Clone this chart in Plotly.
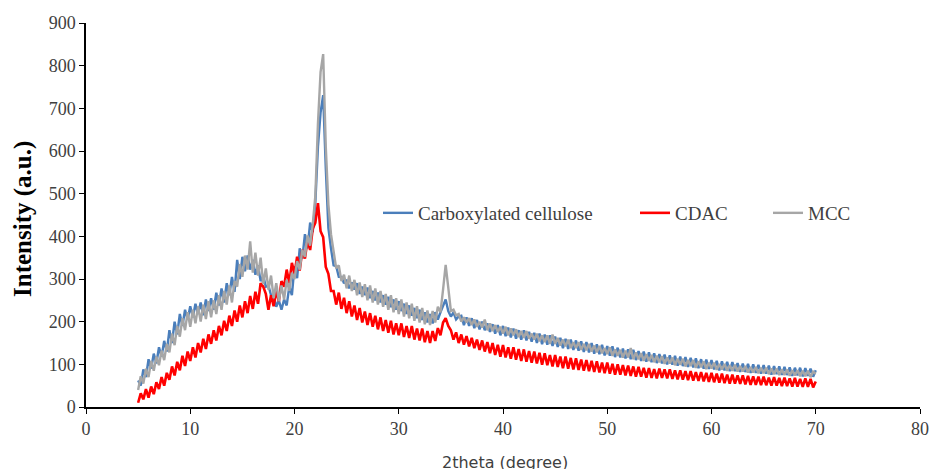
import numpy as np
import plotly.graph_objects as go

# 2theta grid (degree), 0.25 deg step from 5 to 70
two_theta = np.round(np.arange(5.0, 70.0001, 0.25), 2)

# Intensities (a.u.), four values per degree
carboxylated = [
    62, 50, 88, 70,   112, 90, 125, 102,   140, 118, 155, 130,   180, 150, 200, 170,
    218, 190, 228, 205,   236, 210, 242, 218,   245, 215, 252, 225,   255, 228, 268, 238,
    278, 245, 290, 262,   305, 270, 345, 300,   352, 318, 355, 322,   345, 310, 332, 295,
    308, 282, 285, 262,   262, 235, 250, 228,   252, 238, 282, 262,   330, 302, 372, 348,
    405, 372, 432, 410,   480, 610, 690, 731,   560, 420, 372, 332,   330, 305, 305, 290,
    298, 278, 292, 275,   290, 265, 282, 262,   280, 255, 272, 250,   268, 245, 262, 240,
    258, 234, 252, 228,   248, 225, 242, 218,   238, 214, 232, 208,   228, 204, 222, 198,
    218, 196, 222, 205,   222, 238, 252, 225,   212, 222, 205, 212,   214, 192, 210, 190,
    208, 185, 204, 182,   200, 180, 196, 176,   194, 172, 192, 168,   190, 166, 186, 163,
    184, 160, 180, 158,   180, 156, 176, 153,   174, 150, 172, 147,   170, 146, 168, 143,
    165, 141, 162, 138,   160, 136, 158, 134,   156, 132, 154, 129,   152, 128, 150, 125,
    147, 124, 146, 121,   143, 120, 142, 117,   139, 116, 137, 114,   135, 112, 134, 110,
    131, 108, 130, 106,   128, 105, 126, 103,   124, 102, 123, 100,   121, 99, 120, 97,
    118, 96, 117, 94,   115, 93, 114, 91,   112, 90, 111, 89,   110, 88, 108, 86,
    107, 86, 106, 84,   105, 84, 103, 82,   102, 82, 101, 80,   100, 80, 99, 78,
    98, 78, 97, 76,   96, 77, 95, 75,   94, 75, 93, 73,   92, 74, 92, 72,
    91, 73, 90, 71,   86,
]

cdac = [
    10, 32, 18, 42,   22, 48, 30, 58,   42, 70, 50, 80,   64, 95, 74, 106,
    86, 120, 96, 130,   108, 140, 116, 150,   128, 160, 136, 170,   148, 180, 156, 190,
    168, 202, 178, 214,   190, 226, 200, 238,   210, 248, 220, 260,   230, 270, 242, 290,
    282, 265, 228, 262,   236, 272, 248, 295,   282, 322, 290, 338,   312, 352, 320, 368,
    348, 392, 368, 418,   432, 478, 412, 398,   328, 312, 272, 272,   240, 268, 230, 256,
    220, 248, 212, 238,   204, 232, 198, 224,   192, 220, 188, 214,   182, 210, 178, 204,
    174, 202, 170, 196,   168, 196, 164, 190,   162, 190, 158, 184,   156, 184, 152, 178,
    150, 178, 155, 185,   168, 198, 208, 190,   180, 158, 175, 150,   170, 146, 166, 142,
    162, 138, 158, 134,   156, 130, 152, 126,   150, 122, 146, 118,   145, 116, 140, 113,
    140, 111, 136, 108,   135, 106, 131, 104,   130, 102, 127, 99,   126, 98, 122, 95,
    122, 94, 118, 91,   118, 90, 115, 88,   114, 87, 111, 85,   110, 84, 108, 82,
    107, 81, 104, 79,   104, 78, 101, 76,   100, 76, 98, 74,   97, 73, 95, 71,
    94, 71, 92, 69,   91, 68, 89, 67,   90, 68, 88, 67,   88, 66, 86, 65,
    86, 64, 84, 63,   84, 62, 82, 61,   82, 60, 80, 59,   80, 58, 78, 57,
    78, 56, 76, 55,   76, 55, 74, 54,   74, 53, 73, 52,   72, 52, 71, 51,
    71, 51, 69, 50,   70, 50, 68, 49,   69, 49, 67, 48,   68, 48, 66, 47,
    67, 47, 66, 46,   60,
]

mcc = [
    40, 72, 55, 90,   70, 108, 85, 118,   98, 132, 110, 148,   128, 172, 145, 190,
    165, 208, 180, 222,   188, 228, 196, 236,   200, 240, 206, 248,   210, 250, 218, 262,
    228, 272, 240, 285,   245, 295, 282, 335,   305, 355, 322, 388,   315, 362, 308, 350,
    288, 325, 275, 308,   255, 290, 248, 285,   252, 298, 272, 315,   300, 342, 322, 368,
    352, 402, 378, 428,   495, 665, 785, 827,   610, 475, 405, 368,   325, 332, 295, 310,
    278, 308, 272, 298,   262, 292, 258, 288,   250, 285, 245, 278,   240, 272, 235, 265,
    228, 262, 222, 255,   218, 252, 212, 245,   208, 242, 202, 236,   198, 232, 194, 226,
    192, 225, 198, 235,   222, 275, 333, 280,   225, 228, 215, 218,   200, 210, 198, 208,
    192, 205, 188, 200,   186, 205, 180, 196,   178, 192, 176, 188,   172, 188, 168, 184,
    168, 182, 164, 178,   162, 178, 160, 172,   158, 172, 154, 168,   152, 168, 148, 170,
    148, 162, 144, 158,   142, 158, 138, 152,   138, 152, 134, 148,   133, 148, 130, 144,
    128, 143, 126, 138,   124, 140, 120, 135,   120, 134, 116, 132,   116, 138, 112, 128,
    112, 126, 108, 124,   108, 122, 105, 120,   105, 119, 101, 116,   102, 116, 98, 113,
    99, 113, 95, 110,   96, 110, 92, 107,   93, 107, 89, 104,   90, 104, 87, 101,
    88, 101, 85, 98,   85, 99, 83, 96,   83, 96, 81, 94,   81, 94, 79, 92,
    79, 92, 77, 90,   77, 90, 75, 88,   75, 88, 73, 86,   74, 86, 72, 85,
    72, 85, 70, 83,   78,
]

x_ticks = [0, 10, 20, 30, 40, 50, 60, 70, 80]
y_ticks = [0, 100, 200, 300, 400, 500, 600, 700, 800, 900]

names = ["Carboxylated cellulose", "CDAC", "MCC"]
colors = ["#4A7EBB", "#FF0000", "#A6A6A6"]

fig = go.Figure()
fig.add_trace(go.Scatter(x=two_theta, y=carboxylated, mode="lines", name=names[0],
                         line=dict(color=colors[0], width=2.4), legend="legend"))
fig.add_trace(go.Scatter(x=two_theta, y=cdac, mode="lines", name=names[1],
                         line=dict(color=colors[1], width=2.6), legend="legend2"))
fig.add_trace(go.Scatter(x=two_theta, y=mcc, mode="lines", name=names[2],
                         line=dict(color=colors[2], width=2.4), legend="legend3"))

W, H = 930, 469
# plot area in window pixels: x 86..920, y 23..407
PX0, PX1, PY0, PY1 = 86, 920, 407, 23
def fx(px):
    return (px - PX0) / (PX1 - PX0)
def fy(py):
    return (PY0 - py) / (PY0 - PY1)

leg_font = dict(family="Liberation Serif", size=19, color="#404040")
def leg(xp):
    return dict(x=fx(xp), y=fy(213), xanchor="left", yanchor="middle", orientation="h",
                font=leg_font, bgcolor="rgba(0,0,0,0)", borderwidth=0)

tick_font = dict(family="Liberation Serif", size=18, color="#404040")
fig.update_layout(
    width=W, height=H,
    margin=dict(l=PX0, r=0, t=PY1, b=H - PY0, autoexpand=False),
    paper_bgcolor="white", plot_bgcolor="white",
    showlegend=True,
    legend=leg(378),
    legend2=leg(635),
    legend3=leg(768),
    xaxis=dict(range=[0, 80], tickvals=x_ticks, showgrid=False, zeroline=False,
               showline=True, linecolor="black", linewidth=1.5,
               ticks="outside", ticklen=5, tickcolor="black", tickfont=tick_font,
               domain=[0, (PX1 - PX0) / (W - PX0)]),
    yaxis=dict(range=[0, 900], tickvals=y_ticks, showgrid=False, zeroline=False,
               showline=True, linecolor="black", linewidth=1.5,
               ticks="outside", ticklen=5, tickcolor="black", tickfont=tick_font),
)

fig.add_annotation(text="<b>Intensity (a.u.)</b>", xref="paper", yref="paper",
                   x=(23 - PX0) / (W - PX0), y=fy(219), textangle=-90,
                   showarrow=False, xanchor="center", yanchor="middle",
                   font=dict(family="Liberation Serif", size=25, color="black"))
fig.add_annotation(text="2theta (degree)", xref="paper", yref="paper",
                   x=(505 - PX0) / (W - PX0), y=fy(462),
                   showarrow=False, xanchor="center", yanchor="middle",
                   font=dict(family="DejaVu Sans", size=16, color="#404040"))
for name in ["legend", "legend2", "legend3"]:
    xp = fig.layout[name].x * (PX1 - PX0) + PX0
    fig.layout[name].x = (xp - PX0) / (W - PX0)

fig.write_html("out.html", config={"displayModeBar": False},
               post_script="document.body.style.margin='0';"
                           "document.body.style.overflow='hidden';")
